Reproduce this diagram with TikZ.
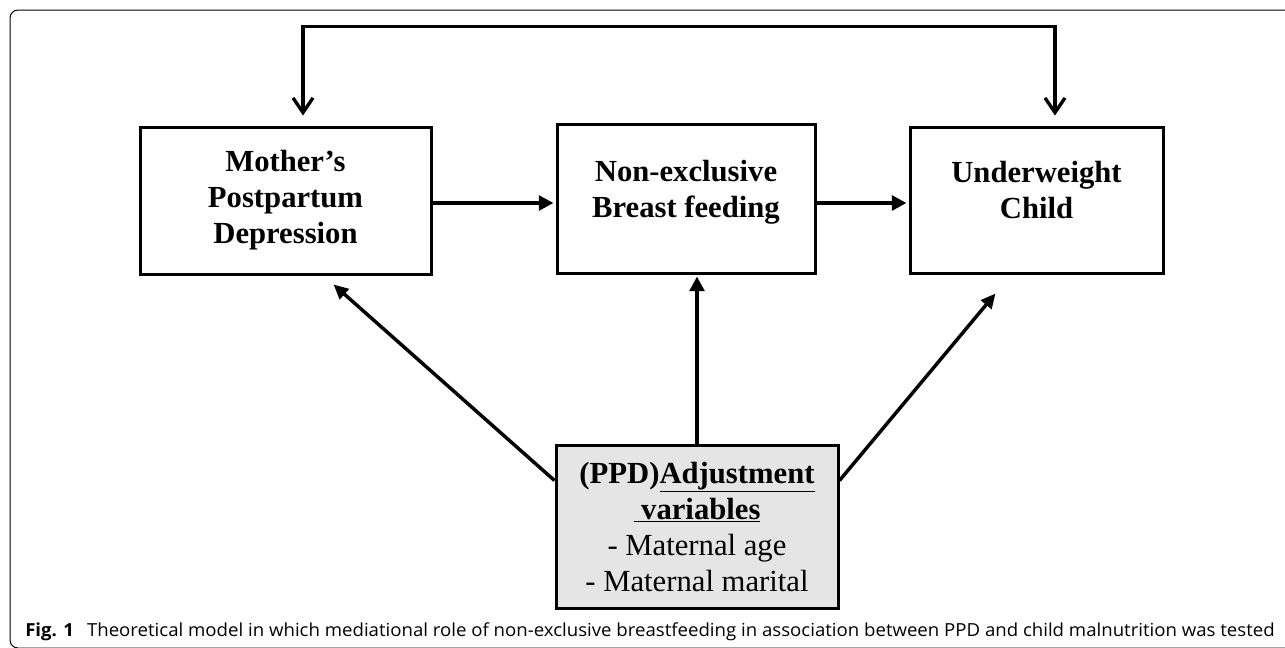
\documentclass[tikz,border=0pt]{standalone}
\usepackage{fontspec}
\setmainfont{Liberation Serif}
\newfontfamily\capfont{Open Sans}
\usetikzlibrary{arrows.meta,calc}

\tikzset{
  box/.style={draw, line width=2.25pt, align=center, inner sep=0pt,
    font=\fontsize{23}{27}\selectfont\bfseries},
  arr/.style={line width=3pt, -{Triangle[length=11pt,width=11pt]}, shorten >=1.5pt},
  diag/.style={line width=2.6pt, -{Triangle[length=11pt,width=10pt]}},
  fback/.style={line width=2.5pt,
    {Straight Barb[length=11pt,width=15pt]}-{Straight Barb[length=11pt,width=15pt]}},
}

\begin{document}
\begin{tikzpicture}[x=0.75pt,y=0.75pt,yscale=-1,xscale=1]
        \clip (0,0) rectangle (1285,647);

        %Frame
        \draw [line width=0.75pt, rounded corners=6pt] (10,10) rectangle (1320,648) ;

        % Text Node
        \node [box, minimum width=218.25pt, minimum height=110.25pt] (mother) at (285.5,200.5)
          {Mother's\\Postpartum\\Depression};
        % Text Node
        \node [box, minimum width=193.5pt, minimum height=111.75pt] (nonex) at (686,198.5)
          {Non-exclusive\\Breast feeding\\[-12pt]};
        % Text Node
        \node [box, minimum width=189.75pt, minimum height=109.5pt] (under) at (1036.5,200)
          {Underweight\\Child\\[-12pt]};
        % Text Node
        \node [box, fill=black!10, minimum width=211.5pt, minimum height=122.25pt,
          font=\fontsize{23}{27}\selectfont] (adjust) at (697,526.5)
          {\textbf{(PPD)\underline{Adjustment}}\\ \textbf{\underline{\ variables}}\\
           - Maternal age\\ - Maternal marital};

        %Straight Lines
        \draw [arr] (mother.east |- 0,203) -- (nonex.west |- 0,203) ;
        \draw [arr] (nonex.east |- 0,203) -- (under.west |- 0,203) ;
        \draw [arr] (adjust.north) -- (adjust.north |- nonex.south) ;
        \draw [diag] ($(adjust.north west)+(0,37)$) -- ($(mother.south west)+(195,9)$) ;
        \draw [diag] ($(adjust.north east)+(0,37)$) -- ($(under.south west)+(87,19)$) ;

        %Feedback Line
        \draw [fback] ($(mother.north)+(17.5,-10)$) |- ($(under.north)+(18.5,-99)$)
          -- ($(under.north)+(18.5,-10)$) ;

        % Caption
        \node [anchor=base west, inner sep=0pt, font=\capfont\fontsize{13.5}{15}\selectfont]
          (caption) at (25,636)
          {\resizebox{937pt}{\height}{\textbf{Fig. 1}\hspace{0.7em}Theoretical model in which mediational role of non-exclusive breastfeeding in association between PPD and child malnutrition was tested}};

\end{tikzpicture}
\end{document}
